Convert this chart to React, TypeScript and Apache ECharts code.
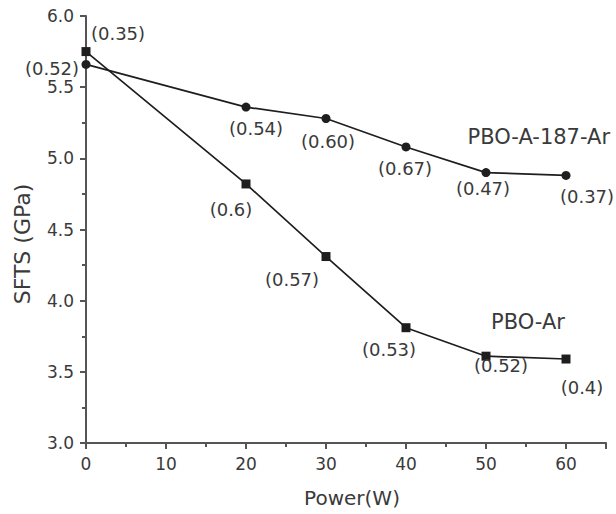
import React, { useEffect, useRef } from "react";
import * as echarts from "echarts";

const powers = [0, 20, 30, 40, 50, 60];
const pboAr = [5.75, 4.82, 4.31, 3.81, 3.61, 3.59];
const pboArLabels = ["(0.35)", "(0.6)", "(0.57)", "(0.53)", "(0.52)", "(0.4)"];
const pboA187 = [5.66, 5.36, 5.28, 5.08, 4.9, 4.88];
const pboA187Labels = ["(0.52)", "(0.54)", "(0.60)", "(0.67)", "(0.47)", "(0.37)"];
const arLabelOffsets = [[32, -18], [-15, 26], [-34, 23], [-17, 22], [15, 9], [16, 28]];
const a187LabelOffsets = [[-34, 4], [10, 21], [2, 23], [-1, 22], [-3, 16], [21, 21]];
const seriesNames = ["PBO-Ar", "PBO-A-187-Ar"];
const nameCoords = [[55.25, 3.85], [56.6, 5.15]];

const FONT = "DejaVu Sans";
const TEXT = "#3a3a3a";
const INK = "#1e1e1e";
const AXIS = "#555555";

function buildData(vals: number[], labels: string[], offsets: number[][]) {
  return vals.map((v, i) => ({
    value: [powers[i], v],
    label: {
      show: true,
      formatter: labels[i],
      position: "inside",
      align: "center",
      verticalAlign: "middle",
      offset: offsets[i],
      fontFamily: FONT,
      fontSize: 18,
      color: TEXT,
    },
  }));
}

export default function App() {
  const ref = useRef<HTMLDivElement>(null);
  useEffect(() => {
    const chart = echarts.init(ref.current!, undefined, { renderer: "svg" });
    const mk = (idx: number) => ({
      symbol: "circle",
      symbolSize: 0,
      silent: true,
      data: [
        {
          coord: nameCoords[idx],
          value: seriesNames[idx],
          label: {
            show: true,
            formatter: seriesNames[idx],
            position: "inside",
            fontFamily: FONT,
            fontSize: 21,
            color: TEXT,
          },
        },
      ],
    });
    chart.setOption({
      animation: false,
      backgroundColor: "#ffffff",
      grid: { left: 86, right: 10, top: 16, bottom: 71, containLabel: false },
      xAxis: {
        type: "value",
        min: 0,
        max: 65,
        interval: 10,
        axisLine: { show: true, lineStyle: { color: AXIS, width: 2 } },
        axisTick: { show: true, inside: false, length: 6, lineStyle: { color: AXIS, width: 2 } },
        minorTick: { show: true, splitNumber: 2, length: 4, lineStyle: { color: AXIS, width: 2 } },
        splitLine: { show: false },
        axisLabel: {
          fontFamily: FONT,
          fontSize: 17,
          color: TEXT,
          margin: 12,
          showMaxLabel: false,
        },
      },
      yAxis: {
        type: "value",
        min: 3,
        max: 6,
        interval: 0.5,
        axisLine: { show: true, lineStyle: { color: AXIS, width: 2 } },
        axisTick: { show: true, inside: false, length: 6, lineStyle: { color: AXIS, width: 2 } },
        minorTick: { show: true, splitNumber: 2, length: 4, lineStyle: { color: AXIS, width: 2 } },
        splitLine: { show: false },
        axisLabel: {
          fontFamily: FONT,
          fontSize: 17,
          color: TEXT,
          margin: 12,
          formatter: (v: number) => v.toFixed(1),
        },
      },
      graphic: [
        {
          type: "text",
          x: 22,
          y: 244,
          rotation: Math.PI / 2,
          style: {
            text: "SFTS (GPa)",
            fontFamily: FONT,
            fontSize: 22,
            fill: TEXT,
            align: "center",
            verticalAlign: "middle",
          },
        },
        {
          type: "text",
          x: 352,
          y: 498,
          style: {
            text: "Power(W)",
            fontFamily: FONT,
            fontSize: 20,
            fill: TEXT,
            align: "center",
            verticalAlign: "middle",
          },
        },
      ],
      series: [
        {
          name: seriesNames[0],
          type: "line",
          data: buildData(pboAr, pboArLabels, arLabelOffsets),
          symbol: "rect",
          symbolSize: 9,
          itemStyle: { color: INK },
          lineStyle: { color: INK, width: 1.7 },
          markPoint: mk(0),
        },
        {
          name: seriesNames[1],
          type: "line",
          data: buildData(pboA187, pboA187Labels, a187LabelOffsets),
          symbol: "circle",
          symbolSize: 9,
          itemStyle: { color: INK },
          lineStyle: { color: INK, width: 1.7 },
          markPoint: mk(1),
        },
      ],
    });
    return () => chart.dispose();
  }, []);
  return (
    <div
      ref={ref}
      style={{ position: "fixed", left: 0, top: 0, width: 616, height: 514 }}
    />
  );
}
